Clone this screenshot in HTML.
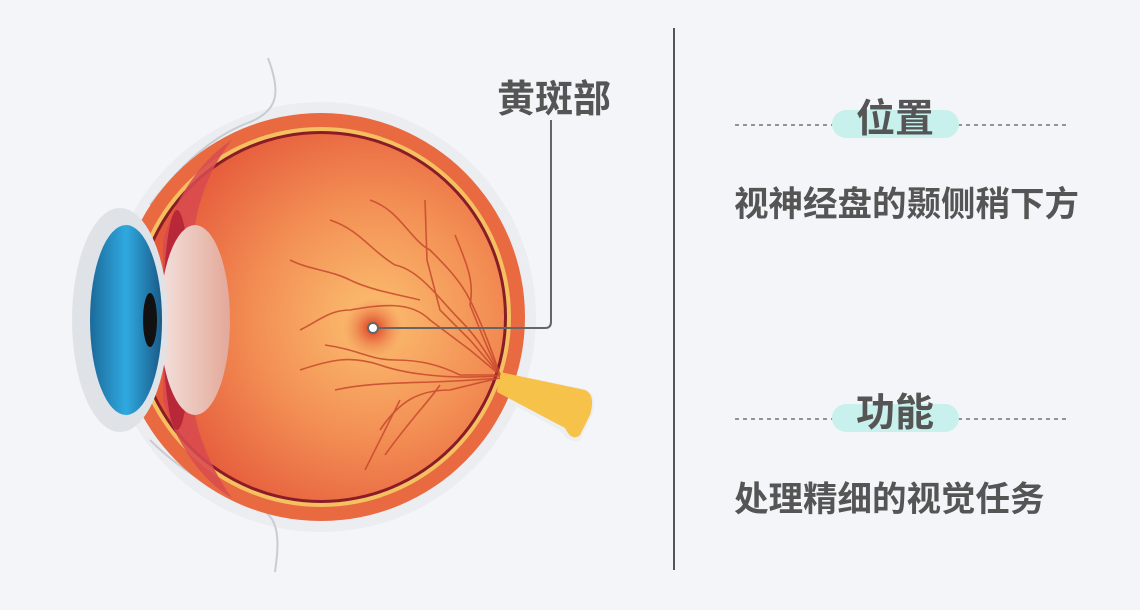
<!DOCTYPE html>
<html><head><meta charset="utf-8"><style>
body{margin:0;width:1140px;height:610px;background:#f4f5f8;overflow:hidden;position:relative;font-family:"Liberation Sans","Noto Sans CJK SC",sans-serif;color:#555}
.t{position:absolute;white-space:nowrap}
</style></head><body>
<svg width="1140" height="610" style="position:absolute;left:0;top:0">
<defs>
<radialGradient id="g" cx="373" cy="320" r="230" gradientUnits="userSpaceOnUse">
<stop offset="0" stop-color="#fbc070"/><stop offset="0.5" stop-color="#f39055"/><stop offset="1" stop-color="#e5583a"/></radialGradient>
<radialGradient id="m" cx="373" cy="328" r="30" gradientUnits="userSpaceOnUse">
<stop offset="0" stop-color="#d8301c"/><stop offset="1" stop-color="#f08050" stop-opacity="0"/></radialGradient>
<linearGradient id="b" x1="0" x2="1"><stop offset="0" stop-color="#1c6a9a"/><stop offset="0.5" stop-color="#2fa9e0"/><stop offset="1" stop-color="#1a5a88"/></linearGradient>
<linearGradient id="l" x1="0" x2="1"><stop offset="0" stop-color="#f3e0dc"/><stop offset="1" stop-color="#e3a898"/></linearGradient>
</defs>
<circle cx="321" cy="317" r="215" fill="#ecedf0"/>
<path d="M500 372 L580 388 Q600 392 592 415 L580 440 Q570 445 560 430 L495 395Z" fill="#eceef0"/>
<path d="M268 58 C280 90 280 110 250 122 C215 135 185 160 150 205" fill="none" stroke="#c8ccd4" stroke-width="2"/>
<path d="M150 440 C185 475 225 495 262 510 C282 520 278 550 275 572" fill="none" stroke="#c8ccd4" stroke-width="2"/>
<circle cx="321" cy="317" r="204" fill="#e96a40"/>
<circle cx="321" cy="317" r="190" fill="#f5c060"/>
<circle cx="321" cy="317" r="186" fill="#8a1c28"/>
<circle cx="321" cy="317" r="183" fill="url(#g)"/>
<path d="M500 372 L585 390 Q596 395 590 415 L580 435 Q572 442 565 428 L497 392Z" fill="#f6c24a"/>
<circle cx="373" cy="328" r="30" fill="url(#m)"/>
<g fill="none" stroke="#c8482e" stroke-width="1.6" opacity="0.85">
<path d="M330 220 C360 230 370 250 395 265 C420 270 440 300 460 320 C480 340 490 360 500 375"/>
<path d="M370 200 C400 210 410 240 430 250 C445 265 460 280 470 300 C485 330 495 360 500 375"/>
<path d="M425 200 L427 260 L440 310 L470 340 L500 375"/>
<path d="M455 235 C465 260 475 280 470 305 C480 330 490 355 500 375"/>
<path d="M300 330 C320 320 330 310 350 310 C380 305 410 300 430 320 L470 350 L500 375"/>
<path d="M325 345 C360 350 370 360 395 360 C420 360 440 365 460 375 L500 375"/>
<path d="M300 370 C330 360 350 355 380 365 C400 372 440 380 500 376"/>
<path d="M335 390 C380 380 420 385 500 378"/>
<path d="M380 430 C400 400 420 390 450 390 C470 385 490 380 500 378"/>
<path d="M385 455 C410 420 430 400 440 385"/>
<path d="M365 470 C380 440 390 420 400 400"/>
<path d="M290 260 C310 270 330 270 350 280 C370 290 400 295 420 300"/>
</g>
<path d="M232 140 C200 160 175 200 163 240 L163 400 C175 440 200 480 232 498 C212 470 200 440 195 415 L195 225 C200 195 212 165 232 140Z" fill="#d84a50" opacity="0.85"/>
<ellipse cx="177" cy="320" rx="14" ry="110" fill="#b82838"/>
<ellipse cx="195" cy="320" rx="35" ry="95" fill="url(#l)"/>
<ellipse cx="120" cy="320" rx="48" ry="112" fill="#dfe3e8"/>
<ellipse cx="126" cy="320" rx="36" ry="95" fill="url(#b)"/>
<ellipse cx="150" cy="320" rx="7" ry="27" fill="#111"/>
<line x1="674" y1="28" x2="674" y2="570" stroke="#555" stroke-width="2"/>
<line x1="735" y1="125" x2="833" y2="125" stroke="#333" stroke-width="1" stroke-dasharray="4,4"/>
<line x1="958" y1="125" x2="1068" y2="125" stroke="#333" stroke-width="1" stroke-dasharray="4,4"/>
<rect x="832" y="110" width="127" height="28" rx="14" fill="#c8f0ec"/>
<line x1="735" y1="419" x2="833" y2="419" stroke="#333" stroke-width="1" stroke-dasharray="4,4"/>
<line x1="958" y1="419" x2="1068" y2="419" stroke="#333" stroke-width="1" stroke-dasharray="4,4"/>
<rect x="832" y="404" width="127" height="28" rx="14" fill="#c8f0ec"/>
<path d="M373 328 L545 328 Q551 328 551 322 L551 120" fill="none" stroke="#666" stroke-width="2"/>
<circle cx="373" cy="328" r="5" fill="#fff" stroke="#666" stroke-width="2"/>
</svg>
<div class="t" style="left:497px;top:68px;font-size:38px;font-weight:bold">黄斑部</div>
<div class="t" style="left:856px;top:88px;font-size:39px;font-weight:bold">位置</div>
<div class="t" style="left:734px;top:176px;font-size:34.5px;font-weight:bold">视神经盘的颞侧稍下方</div>
<div class="t" style="left:856px;top:382px;font-size:39px;font-weight:bold">功能</div>
<div class="t" style="left:734px;top:471px;font-size:34.5px;font-weight:bold">处理精细的视觉任务</div>
</body></html>
